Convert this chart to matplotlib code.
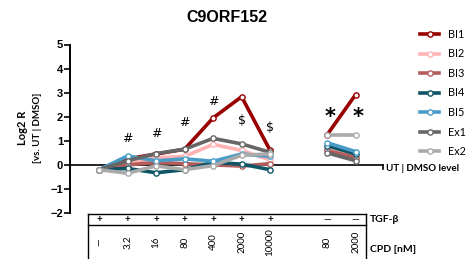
import matplotlib
matplotlib.use("Agg")
import matplotlib.pyplot as plt
from matplotlib.transforms import blended_transform_factory
from matplotlib.lines import Line2D

# ---- data ----
positions = [0, 1, 2, 3, 4, 5, 6, 8, 9]
series_names = ["BI1", "BI2", "BI3", "BI4", "BI5", "Ex1", "Ex2"]
BI1 = [-0.2, 0.25, 0.45, 0.65, 1.95, 2.83, 0.60, 1.25, 2.92]
BI2 = [-0.2, 0.05, 0.30, 0.35, 0.85, 0.60, 0.20, 0.65, 0.35]
BI3 = [-0.2, 0.00, 0.10, 0.05, 0.00, -0.05, 0.05, 0.60, 0.30]
BI4 = [-0.2, -0.15, -0.33, -0.20, 0.10, 0.03, -0.20, 0.80, 0.45]
BI5 = [-0.2, 0.37, 0.17, 0.25, 0.15, 0.45, 0.35, 0.92, 0.55]
Ex1 = [-0.2, 0.17, 0.47, 0.65, 1.10, 0.87, 0.52, 0.50, 0.17]
Ex2 = [-0.2, -0.35, -0.04, -0.20, -0.03, 0.40, 0.45, 1.22, 1.22]
colors = ["#990000", "#FFB3B3", "#B35C5C", "#0E5566", "#4A9CC8", "#666666", "#AAAAAA"]
tgf_labels = ["+", "+", "+", "+", "+", "+", "+", "\u2014", "\u2014"]
cpd_labels = ["\u2014", "3.2", "16", "80", "400", "2000", "10000", "80", "2000"]
annot_x = [1, 2, 3, 4, 5, 6, 8.1, 9.1]
annot_y = [1.1, 1.3, 1.75, 2.65, 1.85, 1.55, 2.0, 2.0]
annot_txt = ["#", "#", "#", "#", "$", "$", "*", "*"]

data = [BI1, BI2, BI3, BI4, BI5, Ex1, Ex2]

fig = plt.figure(figsize=(4.75, 2.59), dpi=100)
ax = fig.add_axes([70/475, 1-213/259, (383-70)/475, (213-44.5)/259])
ax.set_xlim(-1.02, 9.96)
ax.set_ylim(-2, 5)

segs = [slice(0, 7), slice(7, 9)]
for name, vals, c in zip(series_names, data, colors):
    for s in segs:
        ax.plot(positions[s], vals[s], color=c, lw=2.6, marker="o", ms=3.8,
                mfc="white", mec=c, mew=1.0, zorder=3, solid_capstyle="butt")

# zero line with little end tick
ax.plot([-1.02, 9.96], [0, 0], color="black", lw=1.2, zorder=2, clip_on=False)
ax.plot([9.96, 9.96], [0, -0.17], color="black", lw=1.2, zorder=2, clip_on=False)
ax.text(10.05, -0.17, "UT | DMSO level", fontsize=7, fontweight="bold",
        family="Lato", va="center", ha="left", clip_on=False)

for x, y, t in zip(annot_x, annot_y, annot_txt):
    if t == "*":
        ax.text(x, y, t, fontsize=15, fontweight="bold", ha="center", va="center")
    else:
        ax.text(x, y, t, fontsize=9, ha="center", va="center", family="DejaVu Sans")

for sp in ["top", "right", "bottom"]:
    ax.spines[sp].set_visible(False)
ax.spines["left"].set_linewidth(1.4)
ax.set_xticks([])
ax.set_yticks(range(-2, 6))
ax.tick_params(axis="y", length=4, width=1.2, labelsize=8, pad=1)
for lab in ax.get_yticklabels():
    lab.set_fontweight("bold")
    lab.set_family("Liberation Sans")

fig.text(22/475, 1-128/259, "Log2 R", rotation=90, fontsize=8, fontweight="bold",
         family="Lato", ha="center", va="center")
fig.text(37/475, 1-128/259, "[vs. UT | DMSO]", rotation=90, fontsize=7,
         fontweight="bold", family="Lato", ha="center", va="center")

fig.text(227/475, 1-18/259, "C9ORF152", fontsize=11.5, fontweight="bold",
         family="Liberation Sans", ha="center", va="center")

# table
tr = blended_transform_factory(ax.transData, fig.transFigure)
xl, xr = -0.39, 9.37
ytop, ymid, ybot = 1-214/259, 1-225/259, -0.01
kw = dict(color="black", lw=1.0, transform=tr, clip_on=False)
ax.plot([xl, xr], [ytop, ytop], **kw)
ax.plot([xl, xr], [ymid, ymid], **kw)
ax.plot([xl, xl], [ybot, ytop], **kw)
ax.plot([xr, xr], [ybot, ytop], **kw)
for p, t in zip(positions, tgf_labels):
    ax.text(p, 1-219.5/259, t, transform=tr, fontsize=7, ha="center", va="center",
            family="Lato", fontweight="bold" if t == "+" else "normal")
for p, t in zip(positions, cpd_labels):
    ax.text(p, 1-242/259, t, transform=tr, fontsize=7, ha="center", va="center",
            rotation=90, family="Lato")
ax.text(9.5, 1-219.5/259, "TGF-\u03b2", transform=tr, fontsize=7.5, fontweight="bold",
        family="Lato", ha="left", va="center")
ax.text(9.5, 1-249/259, "CPD [nM]", transform=tr, fontsize=7.5, fontweight="bold",
        family="Lato", ha="left", va="center")

handles = [Line2D([], [], color=c, lw=2.6, marker="o", ms=3.8, mfc="white", mec=c, mew=1.0)
           for c in colors]
fig.legend(handles, series_names, loc="upper left", bbox_to_anchor=(410/475, 1-19/259),
           frameon=False, handlelength=1.8, handletextpad=0.8,
           labelspacing=0.79, prop={"family": "Lato", "size": 7.8})

fig.savefig("out.png", dpi=100)
